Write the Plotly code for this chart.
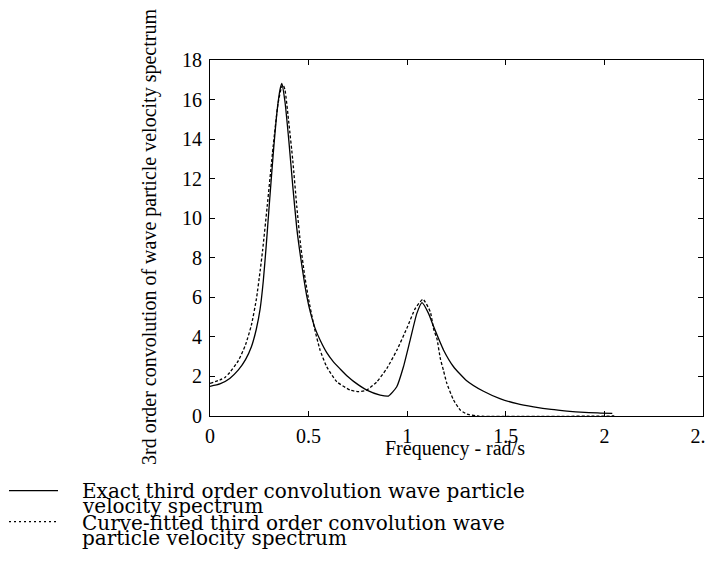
import plotly.graph_objects as go

# ---- data ----
exact_freq = [0.0, 0.05, 0.10, 0.144, 0.18, 0.21, 0.235, 0.254, 0.27, 0.285, 0.30, 0.321,
              0.34, 0.355, 0.364, 0.38, 0.40, 0.42, 0.44, 0.46, 0.49, 0.51, 0.533, 0.56,
              0.592, 0.625, 0.66, 0.70, 0.728, 0.795, 0.863, 0.905, 0.947, 0.981, 1.015,
              1.049, 1.075, 1.108, 1.134, 1.184, 1.235, 1.30, 1.387, 1.47, 1.557, 1.641,
              1.73, 1.81, 1.90, 1.98, 2.04]
exact_spec = [1.50, 1.62, 1.90, 2.33, 2.85, 3.50, 4.40, 5.40, 6.80, 8.60, 10.6, 13.3,
              15.4, 16.5, 16.82, 15.9, 13.9, 11.6, 9.5, 8.0, 6.1, 5.2, 4.43, 3.8,
              3.2, 2.75, 2.38, 1.98, 1.75, 1.31, 1.06, 1.01, 1.48, 2.49, 3.84,
              5.19, 5.73, 5.19, 4.52, 3.34, 2.49, 1.80, 1.25, 0.88, 0.62, 0.46,
              0.33, 0.25, 0.18, 0.15, 0.13]

fitted_freq = [0.0, 0.05, 0.076, 0.10, 0.144, 0.18, 0.21, 0.235, 0.255, 0.267, 0.29,
               0.32, 0.345, 0.362, 0.37, 0.38, 0.40, 0.42, 0.44, 0.46, 0.48, 0.50,
               0.52, 0.533, 0.558, 0.592, 0.643, 0.711, 0.753, 0.795, 0.846, 0.897,
               0.948, 0.998, 1.041, 1.08, 1.117, 1.134, 1.151, 1.168, 1.184, 1.201,
               1.235, 1.269, 1.303, 1.354, 2.05]
fitted_spec = [1.65, 1.82, 1.95, 2.20, 2.80, 3.60, 4.60, 5.90, 7.40, 8.39, 10.6,
               13.6, 15.8, 16.6, 16.75, 16.5, 14.8, 12.9, 10.6, 8.6, 7.1, 5.9,
               4.9, 4.3, 3.34, 2.49, 1.73, 1.31, 1.23, 1.31, 1.73, 2.41,
               3.34, 4.43, 5.44, 5.90, 5.27, 4.40, 3.90, 2.90, 2.30, 1.65,
               0.81, 0.30, 0.10, 0.0, 0.0]

x_ticks = [0, 0.5, 1, 1.5, 2, 2.5]
x_tick_labels = ["0", "0.5", "1", "1.5", "2", "2.5"]
y_ticks = [0, 2, 4, 6, 8, 10, 12, 14, 16, 18]
y_tick_labels = ["0", "2", "4", "6", "8", "10", "12", "14", "16", "18"]

x_title = "Frequency - rad/s"
y_title = "3rd order convolution of wave particle velocity spectrum"
legend_lines_exact = ["Exact third order convolution wave particle", "velocity spectrum"]
legend_lines_fitted = ["Curve-fitted third order convolution wave", "particle velocity spectrum"]

# ---- layout geometry (pixels in the 714x562 window) ----
OFF = 8  # default body margin of the html page
W, H = 714, 562 - 2 * OFF
L, R, T, B = 210, 703, 60, 416
PW, PH = R - L, B - T


def px(xp):
    return (xp - L) / PW


def py(yp):
    return (B - yp) / PH


SERIF = "Liberation Serif, Times New Roman, serif"
LEG_FONT = "DejaVu Serif, serif"

fig = go.Figure()
fig.add_trace(go.Scatter(x=exact_freq, y=exact_spec, mode="lines",
                         line=dict(color="black", width=1.3, shape="spline", smoothing=0.5),
                         name=" ".join(legend_lines_exact), showlegend=False))
fig.add_trace(go.Scatter(x=fitted_freq, y=fitted_spec, mode="lines",
                         line=dict(color="black", width=1.3, dash="3px,2px", shape="spline",
                                   smoothing=0.5),
                         name=" ".join(legend_lines_fitted), showlegend=False))

fig.update_layout(
    width=W, height=H, autosize=False,
    margin=dict(l=L - OFF, r=W - (R - OFF), t=T - OFF, b=H - (B - OFF), pad=0),
    paper_bgcolor="white", plot_bgcolor="white",
    showlegend=False,
    font=dict(family=SERIF, color="black", size=20),
)
fig.update_xaxes(range=[0, 2.5], tickmode="array", tickvals=x_ticks, ticktext=x_tick_labels,
                 ticks="inside", ticklen=5, tickcolor="black", showline=True, linecolor="black",
                 linewidth=1, mirror="ticks", showgrid=False, zeroline=False,
                 tickfont=dict(family=SERIF, size=20, color="black"), ticklabelstandoff=2,
                 ticklabeloverflow="allow", automargin=False)
fig.update_yaxes(range=[0, 18], tickmode="array", tickvals=y_ticks, ticktext=y_tick_labels,
                 ticks="inside", ticklen=5, tickcolor="black", showline=True, linecolor="black",
                 linewidth=1, mirror="ticks", showgrid=False, zeroline=False,
                 tickfont=dict(family=SERIF, size=20, color="black"), ticklabelstandoff=3,
                 ticklabeloverflow="allow", automargin=False)

ann = []
ann.append(dict(text=x_title, x=px(455), y=py(448), xref="paper", yref="paper",
                xanchor="center", yanchor="middle", showarrow=False,
                font=dict(family=SERIF, size=20, color="black")))
ann.append(dict(text=y_title, x=px(149), y=py(237), xref="paper", yref="paper",
                xanchor="center", yanchor="middle", showarrow=False, textangle=-90,
                font=dict(family=SERIF, size=20, color="black")))
leg_y = [490.5, 506, 522.5, 538]
leg_text = legend_lines_exact + legend_lines_fitted
for t, yy in zip(leg_text, leg_y):
    ann.append(dict(text=t, x=px(80), y=py(yy), xref="paper", yref="paper",
                    xanchor="left", yanchor="middle", showarrow=False,
                    font=dict(family=LEG_FONT, size=20, color="black")))
fig.update_layout(annotations=ann)

fig.add_shape(type="line", xref="paper", yref="paper", x0=px(9), x1=px(58),
              y0=py(490.7), y1=py(490.7), line=dict(color="black", width=1.2))
fig.add_shape(type="line", xref="paper", yref="paper", x0=px(9), x1=px(58),
              y0=py(521.7), y1=py(521.7), line=dict(color="black", width=1.2, dash="2px,3px"))

fig.write_html("out.html")
